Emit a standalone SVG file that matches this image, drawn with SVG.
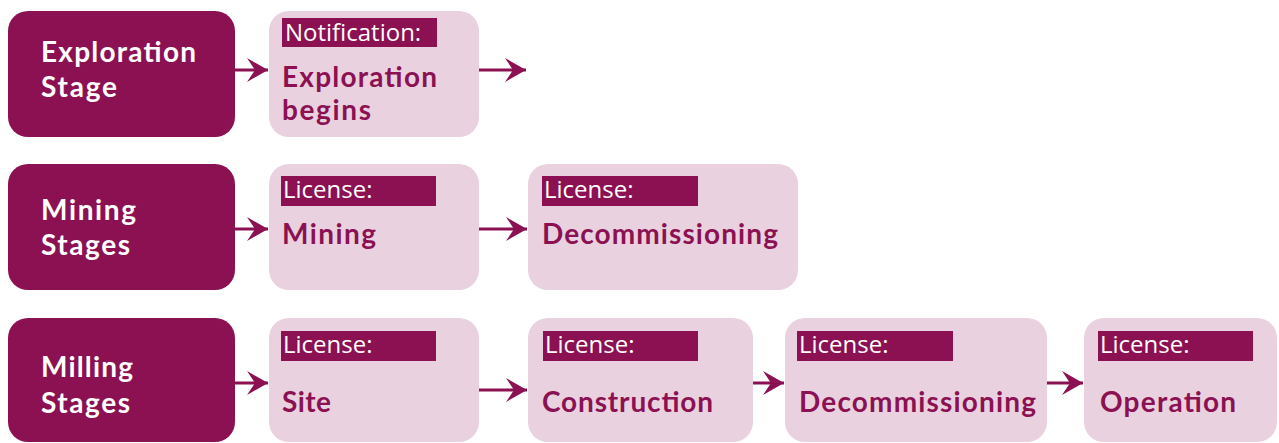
<svg xmlns="http://www.w3.org/2000/svg" width="1279" height="443" viewBox="0 0 1279 443">
<defs>
<style>
.stage{fill:#8b1153}
.box{fill:#e9d1df}
.bar{fill:#8b1153}
.st{font-family:Lato,"Open Sans",sans-serif;font-weight:bold;font-size:28px;fill:#ffffff}
.bt{font-family:Lato,"Open Sans",sans-serif;font-weight:bold;font-size:28px;fill:#8b1153}
.lt{font-family:"Open Sans","Noto Sans",sans-serif;font-size:24px;fill:#ffffff}
.conn{stroke:#8b1153;stroke-width:3;fill:none}
</style>
<marker id="ah" markerUnits="userSpaceOnUse" markerWidth="24" markerHeight="26" viewBox="-22 -13 23 26" refX="0" refY="0" orient="auto">
<path d="M0,0 L-21,-12 L-13,0 L-21,12 Z" fill="#8b1153"/>
</marker>
</defs>
<rect width="1279" height="443" fill="#ffffff"/>

<g id="exploration-stage"><rect class="stage" x="8" y="11" width="227" height="126" rx="20"/><text class="st" x="41" y="62" textLength="155">Exploration</text><text class="st" x="41" y="97" textLength="76">Stage</text></g>
<g id="exploration-begins"><rect class="box" x="269" y="11" width="210" height="126" rx="20"/><rect class="bar" x="282" y="18" width="155" height="29"/><text class="lt" x="285" y="41">Notification:</text><text class="bt" x="282" y="87" textLength="155">Exploration</text><text class="bt" x="282" y="120" textLength="89">begins</text></g>

<g id="mining-stages"><rect class="stage" x="8" y="164" width="227" height="126" rx="20"/><text class="st" x="41" y="220" textLength="95">Mining</text><text class="st" x="41" y="255" textLength="89">Stages</text></g>
<g id="mining-license"><rect class="box" x="269" y="164" width="210" height="126" rx="20"/><rect class="bar" x="281" y="176" width="155" height="30"/><text class="lt" x="283" y="198">License:</text><text class="bt" x="282" y="244" textLength="94">Mining</text></g>
<g id="mining-decommissioning"><rect class="box" x="528" y="164" width="270" height="126" rx="20"/><rect class="bar" x="542" y="176" width="156" height="30"/><text class="lt" x="544" y="198">License:</text><text class="bt" x="542" y="244" textLength="236">Decommissioning</text></g>

<g id="milling-stages"><rect class="stage" x="8" y="318" width="227" height="124" rx="20"/><text class="st" x="41" y="377" textLength="92">Milling</text><text class="st" x="41" y="413" textLength="89">Stages</text></g>
<g id="milling-site"><rect class="box" x="269" y="318" width="210" height="124" rx="20"/><rect class="bar" x="281" y="331" width="155" height="30"/><text class="lt" x="283" y="353">License:</text><text class="bt" x="282" y="412" textLength="49">Site</text></g>
<g id="milling-construction"><rect class="box" x="528" y="318" width="225" height="124" rx="20"/><rect class="bar" x="543" y="331" width="155" height="30"/><text class="lt" x="545" y="353">License:</text><text class="bt" x="542" y="412" textLength="171">Construction</text></g>
<g id="milling-decommissioning"><rect class="box" x="785" y="318" width="262" height="124" rx="20"/><rect class="bar" x="797" y="331" width="156" height="30"/><text class="lt" x="799" y="353">License:</text><text class="bt" x="799" y="412" textLength="237">Decommissioning</text></g>
<g id="milling-operation"><rect class="box" x="1084" y="318" width="193" height="124" rx="20"/><rect class="bar" x="1098" y="331" width="155" height="30"/><text class="lt" x="1100" y="353">License:</text><text class="bt" x="1100" y="412" textLength="136">Operation</text></g>

<g id="connectors">
<line class="conn" x1="235" y1="70" x2="268" y2="70" marker-end="url(#ah)"/>
<line class="conn" x1="479" y1="70" x2="526" y2="70" marker-end="url(#ah)"/>
<line class="conn" x1="235" y1="229" x2="268" y2="229" marker-end="url(#ah)"/>
<line class="conn" x1="479" y1="229" x2="527" y2="229" marker-end="url(#ah)"/>
<line class="conn" x1="235" y1="383" x2="268" y2="383" marker-end="url(#ah)"/>
<line class="conn" x1="479" y1="390" x2="527" y2="390" marker-end="url(#ah)"/>
<line class="conn" x1="753" y1="383" x2="784" y2="383" marker-end="url(#ah)"/>
<line class="conn" x1="1047" y1="383" x2="1083" y2="383" marker-end="url(#ah)"/>
</g>
</svg>
